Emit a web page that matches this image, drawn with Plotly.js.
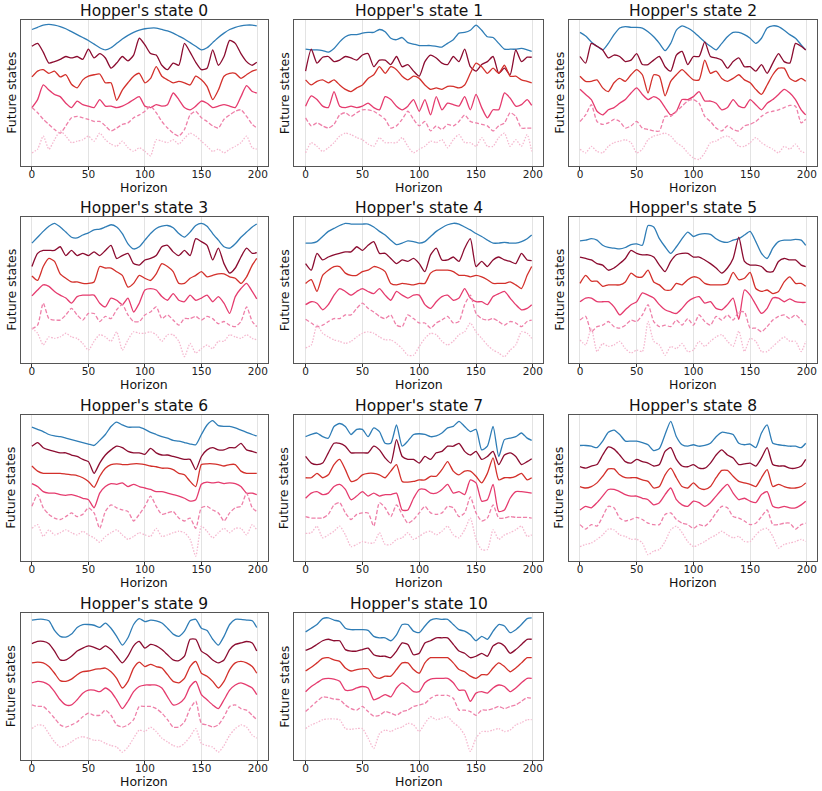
<!DOCTYPE html>
<html>
<head>
<meta charset="utf-8">
<script src="https://cdn.plot.ly/plotly-3.0.1.min.js"></script>
<style>
  body { margin: 0; background: #fff; }
  #chart { width: 822px; height: 791px; }
</style>
</head>
<body>
<div id="chart"></div>
<script>
// horizon steps sampled every 5 (last one is 199)
const horizon = [0,5,10,15,20,25,30,35,40,45,50,55,60,65,70,75,80,85,90,95,100,105,110,115,120,125,130,135,140,145,150,155,160,165,170,175,180,185,190,195,199];

// each state: 6 future-state traces, top (blue) to bottom (light pink) (0-100 scale)
const state0 = [
  [93.5,95,96.5,97,96.5,95.5,94,92,90,88,86,83.5,81,79.5,81,84,87,89.5,91.5,93,94,94.5,94.5,93.5,92.5,91,89,87,84.5,82,79.5,81,84.5,88,91,93.5,95,96,96.5,96.5,96],
  [82,84,78,70.5,71.5,73,75,74,75,73,80,74,77,74,67,70.5,75,72,76,87.5,83,77,76,69,66,70.5,69,84,78,71,66,67,79.5,69,75,86,84,77,71.5,69,71],
  [61,65,66,63.5,65,61,62.5,56,53.5,59,61.5,62.5,63,57,57,45,52,57,61.5,63.5,57,60,68,61.5,59,57,58,57,55.5,61.5,59,54.5,45.5,52,61.5,63.5,63.5,60,62.5,65,66],
  [40,45.5,55.5,52,49,47.5,43,40,44.5,42,41,40,45.5,41,41,40,41,43,45.5,47.5,41,40,42,41,42,50,45.5,40,38.5,41,44.5,43,40,41,42,41,40,47.5,55,51,50],
  [40,36.5,32,28.5,25,22.5,27.5,33,34,33,32,30.5,30.5,27.5,24,26,28.5,29.5,33,35,37.5,41,36.5,30.5,26,22.5,20.5,25,35,37.5,33,30.5,27.5,26,32,35,37.5,38.5,34,28.5,26],
  [9,11.5,20.5,11.5,18,24,20.5,16,17,18,20.5,17,22.5,18,15,13.5,17,12.5,10,12.5,10,7,18,17,16,18,15,19,22.5,20.5,17,13.5,10,11.5,9,11.5,13.5,16,20.5,12.5,11.5]
];
const state1 = [
  [80,79.5,79.5,79,78,80.5,85,88.5,90,90,91,91.5,91.5,93.5,92,87.5,86.5,88,84.5,83.5,82.5,82.5,82.5,82,81.5,84,86.5,91,91.5,93,96.5,93,88.5,88,84,80,80,80,80.5,79.5,78.5],
  [65,80,70.5,74.5,75,71.5,72.5,75,74,72.5,76,77,68,72.5,72.5,69.5,75,68,69.5,65,61.5,71.5,76,74,70.5,69.5,75,71.5,80,68,65,69.5,71.5,75,63.5,67,62.5,79.5,71.5,74.5,74.5],
  [59,55.5,58,59,57,59,55.5,52.5,51,53.5,55.5,60,62.5,68,63.5,68,66,61.5,59,61.5,60,55.5,52.5,53.5,52.5,54.5,54.5,53.5,55.5,63.5,70.5,68,63.5,67,63.5,69,61.5,61.5,59,58,57],
  [41,48,45.5,41,40,51,41,40,41,40,41,43,40,38.5,47.5,45.5,41,38.5,41,45.5,37.5,45.5,35,47.5,38.5,43,42,41,47.5,38.5,49,40,33,38.5,38.5,50,46.5,41,42,45.5,41.5],
  [33,27.5,29.5,27.5,26,28.5,35,36.5,34,36.5,38.5,38.5,37.5,35,32,26,27.5,32,37.5,32,27.5,30.5,24,27.5,25,28.5,27.5,30.5,35,30.5,29.5,28.5,27.5,24,27.5,29.5,36.5,34,26,26,26],
  [9,16,13.5,10,12.5,16,20.5,22.5,21.5,19.5,18,15,13.5,19.5,16,16,16,19.5,13.5,9,11.5,13.5,17,16,18,12.5,18,21.5,16,16,13.5,19.5,13.5,13.5,19.5,22.5,13.5,18,13.5,21.5,10]
];
const state2 = [
  [91.5,89,85,82,79.5,84,90,94.5,95.5,95,95,94.5,92,88.5,84,79,84,93,96,94.5,92,88.5,85,82,79.5,84,88.5,91.5,91.5,90,87.5,84,87.5,94.5,96,95.5,93,90,87.5,83,79.5],
  [75,70.5,84,82,79.5,74,76,75,71.5,72.5,77,69.5,69.5,72.5,75,68,65,76,78.5,69.5,75,75,85,75,74,72.5,67,71.5,74,68,68,65,69.5,63.5,70.5,77,71.5,70.5,84,82,79.5],
  [61.5,58,58,59,53.5,51,57,60,58,62.5,66,62.5,50,62.5,61.5,48,58,62.5,66,62.5,59,59,72.5,63.5,65,60,58,60,62.5,59,57,52.5,49,55.5,62.5,67,67,60,58,60,58],
  [52.5,49,45.5,37.5,35,38.5,40,43,45.5,50,53.5,49,45.5,47.5,45.5,40,35,37.5,45.5,45.5,47.5,51,44.5,44.5,43,38.5,40,45.5,41,40,45.5,42,38.5,43,45.5,49,52.5,50,45.5,38.5,35],
  [30.5,35,42,30.5,28.5,29.5,32,30.5,26,27.5,30.5,26,25,24,24,34,34,37.5,41,44.5,45.5,43,34,30.5,26,24,27.5,25,24,27.5,28.5,30.5,34,36.5,37.5,38.5,40,41.5,41,29.5,32],
  [11.5,9,13.5,10,9,13.5,16,17,18,16,9,11.5,18,20.5,21.5,22.5,20.5,16,13.5,9,5.5,4.5,9,16,17,19.5,20.5,18,13.5,13.5,16,19.5,16,13.5,11.5,9,13.5,11.5,15,10,9]
];
const state3 = [
  [82,86,90,93.5,95.5,93,89.5,86,85.5,87.5,89,91,91.5,93,94.5,93,88.5,81.5,78,79.5,84,88.5,92,93.5,94,92.5,88.5,86,89.5,94,95.5,93.5,88.5,84,79.5,78.5,81.5,86,89.5,93,95],
  [66,75,77,77,77,79.5,73.5,77,73.5,75,73.5,76,73.5,77,80.5,71.5,73.5,75,68,67,70.5,71.5,73.5,79.5,80.5,76,73.5,77,73.5,85,83,80.5,70.5,78.5,68,61.5,65,72.5,78.5,75,75.5],
  [59.5,56.5,66,71.5,69.5,61,58,55.5,55.5,54.5,54.5,55.5,66,65,65,62.5,60,52,54.5,60,58,56.5,61,68,66,62.5,54.5,54.5,58,60,62.5,59,60,61,61,59,58,54.5,59,67,71.5],
  [46,50,53.5,52.5,49,46.5,44.5,41,45.5,46.5,46.5,46.5,41,38.5,44.5,43,40,44.5,35,41,50,51,50,45.5,43,47.5,43,42,46.5,43,44.5,46.5,42,45.5,41,34,45.5,51,54.5,49,44],
  [23.5,26,41,30.5,29.5,29.5,33,37.5,33,29.5,34,34,28.5,32,30.5,36.5,40,33,28.5,28.5,33,35,38.5,30.5,33,29.5,26,30.5,30.5,32,29.5,32,30.5,27,28.5,26,25,28.5,38.5,28.5,25],
  [24,20.5,12.5,18,17,18,20.5,18,17,13.5,9,15,19.5,18,15,21.5,9,16,21.5,20.5,20.5,21.5,19.5,15,19.5,19.5,15,4.5,13.5,7,10,12.5,10,15,15,19.5,18,17,19.5,17,16]
];
const state4 = [
  [82,82,83,86.5,90,92,94,95.5,95,95,95,95,93,90,87.5,84,81,82,83.5,83,82,83,86.5,90,92.5,94.5,95.5,95,93,91,88.5,86.5,84,82,82,82.5,82,82,83,85,87.5],
  [68,63.5,75,70.5,72.5,74,75,76,76,79.5,77,80.5,83,75,75,71.5,68,70.5,69.5,71.5,68,62.5,74,78.5,70.5,70.5,72.5,69.5,78.5,85,66,69.5,66,70.5,72.5,70.5,69.5,68,75,70.5,70],
  [54.5,57,49,60,63.5,66,66,61.5,60,60,62.5,63.5,66,65,62.5,54.5,53.5,54.5,54,53.5,54.5,54.5,61.5,63.5,63.5,63.5,62.5,60,60,59,60,59,57,54.5,54.5,54.5,55.5,53.5,51,60,66],
  [40,42,41,36.5,40,46.5,51,49,46.5,49,51,49,47.5,51,46.5,43,49,46.5,44.5,46.5,46.5,40,37.5,42,45.5,46.5,43,44.5,51,44.5,42,42,40,45.5,47.5,49,44.5,40,36.5,37.5,40],
  [30,27.5,25,26,28.5,30.5,30.5,33,33,37.5,41,37.5,35,32,30.5,33,26,25,33,30.5,27.5,27.5,24,27.5,29.5,32,27.5,28.5,40,46.5,34,30.5,29.5,30.5,28.5,26,28.5,27.5,25,28.5,29.5],
  [10.5,12.5,26,20.5,18,16,15,13.5,15,18,20.5,21.5,20.5,18,16,16,13.5,10,5.5,5.5,11.5,17,20.5,19.5,15,12.5,15,19.5,21.5,27.5,21.5,17,12.5,9,7,4.5,9,12.5,21.5,20.5,17]
];
const state5 = [
  [83.5,84,85,84,80.5,79,78.5,78,79,81,81.5,80.5,94,93,85,79.5,75,79.5,85,89.5,86.5,88,88.5,88,85,83,82.5,84,85,87.5,90,83,75,71.5,78.5,83,84,84,84.5,84,80.5],
  [72.5,71.5,70.5,68,67,63.5,65,68,71.5,77,75,74,74,72.5,67,62.5,69.5,74,75,75,72.5,72.5,70.5,68,65,61.5,65,71.5,86,69.5,67,67,66,62.5,62.5,69.5,71.5,70.5,70.5,67,66],
  [54.5,60,56,56,52.5,53.5,53.5,53.5,55.5,61.5,59,59,63.5,55.5,53.5,50,50,54.5,53.5,57,59,58,54.5,53.5,53.5,53.5,54.5,62,57,58,62,51,49,50,47.5,49,55.5,59,54.5,54.5,52.5],
  [42,44.5,44.5,42,42,42,38.5,33,36.5,40,42,48,46.5,44.5,40,36.5,35,34,37.5,42,44.5,45.5,41,42,37.5,36.5,40,44.5,30,50,46.5,40,34,37.5,44.5,44.5,42,44,42,41.5,41.5],
  [29.5,32,21.5,25,26,28.5,25,24,26,29.5,28.5,33,40,28.5,25,26,25,29.5,26,30.5,26,33,28.5,26,32,29.5,33,29.5,35,35,24,24,21.5,25,29.5,32,33,30.5,33,29.5,26],
  [16,12.5,24,8,13.5,11.5,12.5,15,10,7,9,8,28.5,15,12.5,5.5,11.5,10,13.5,8,9,15,11.5,15,18,19.5,15,11.5,22,8,17,15,8,8,11.5,15,18,15,15,8,15]
];
const state6 = [
  [91.5,90,88.5,86.5,85.5,85,84,83,82,81,80,79,82.5,86.5,92,95,93,91.5,91.5,91.5,90,88,86.5,85,84,82.5,82,81,80,79.5,86.5,93,96,92.5,92,92,91,89.5,88,86.5,85.5],
  [78.5,81,77.5,76,75,74,74,72.5,71.5,69.5,68,60,67,72.5,76,78.5,77.5,75,74,74,73,77,74,72.5,72.5,71.5,70.5,69.5,69.5,62.5,71.5,76,77.5,76,76,77.5,77.5,80.5,76,75,74],
  [65,61.5,60,60,60,60,59.5,59,58.5,57,54.5,50.5,58,63.5,66,66.5,66,66,66.5,66.5,66,65,64.5,63.5,63.5,62.5,60,59,54.5,51,66,66.5,66.5,66,65,66,66,61.5,60,60,60],
  [53,51,47.5,46.5,46.5,45.5,45,45.5,44.5,43,42,36.5,46.5,51,53,52.5,53.5,51,52.5,51,50,49,47.5,47.5,46.5,45.5,44.5,43,41,42,52.5,54,53.5,54,53,53.5,53,51,46.5,46.5,45.5],
  [37.5,45.5,36.5,32,29.5,28.5,30.5,33,30.5,32,36.5,33,22.5,34,38.5,36.5,35,34,27.5,32,37.5,44.5,37.5,32,33,34,29.5,27.5,29.5,22.5,36.5,37.5,35,33,27.5,33,36.5,37.5,46.5,36.5,34],
  [22.5,25,17,21.5,18,19.5,21.5,19.5,18,20.5,18,16,13,17,19.5,21.5,18,15,17,19.5,18,17,22.5,17,18,19.5,20.5,19.5,15,3.5,24,20.5,16,19.5,22.5,19.5,22.5,22.5,18,25,21.5]
];
const state7 = [
  [85,86.5,87.5,85,84,92,94,92,86.5,90,90,85,91,88.5,80.5,80.5,93,78.5,82,86.5,87,86.5,85,85.5,87.5,91,92,95.5,92,88.5,90,76,78.5,92,71.5,83,84,85,87.5,84,82.5],
  [71.5,67,66,67,74,80.5,80.5,78.5,74,74,74,74,78.5,76,70.5,67,83,71.5,69.5,69.5,67,71.5,69.5,74,75,78.5,78.5,80.5,75,72.5,75,69.5,71.5,75,66,72.5,74,71.5,66,68,70],
  [57,57,60,57,59,66,69.5,62.5,54.5,55.5,59,60,60,59,57,61.5,66,54.5,54,54.5,55.5,55.5,58,58,62.5,68,61.5,59,61.5,61.5,58,53.5,60,70.5,55.5,57,57,58,60,55.5,57],
  [43,46.5,47.5,45.5,46.5,51,52.5,49,42,44.5,47.5,44.5,46.5,44.5,45.5,45.5,46.5,35,35,43,49,49,46.5,46.5,49,52.5,46.5,47.5,45.5,55.5,53.5,41,42,52.5,34,35,43,47.5,47.5,47,46.5],
  [30.5,29.5,29.5,29.5,32,38.5,40,33,28.5,32,33,33,24,40,36.5,30.5,38.5,32,26,28.5,33,37.5,33,32,33,37.5,36.5,30.5,33,44,33,27.5,29.5,38.5,29.5,29.5,30.5,30,30,30,29.5],
  [19,19.5,24,16,18,20.5,24,18,10,11.5,13.5,12.5,12.5,19.5,11.5,11.5,15,16,19.5,15,17,19.5,20.5,18,20.5,24,18,16,21.5,29.5,15,8,8,21.5,15,18,19.5,21.5,24,17,18]
];
const state8 = [
  [79,79,78.5,77.5,82,88,89.5,86.5,82,82,82,81,79.5,75.5,77,86.5,95.5,85,79.5,78.5,79.5,78.5,79,80.5,85,88,87.5,86.5,80.5,79.5,80,77.5,87.5,93,80.5,79.5,79,78.5,78.5,77.5,80.5],
  [64.5,63.5,65,66,72.5,78,76.5,72.5,68,67,69.5,68,67,65,66,75,77.5,69.5,65,64.5,66,63.5,63.5,67,72.5,76,72.5,70.5,66,66.5,67,65,70.5,77.5,66,65,65,63.5,63.5,65,69.5],
  [51,50,51,53.5,58,63,63,59,57,57,57,55.5,54.5,50,51,59,63.5,57,51,50,53.5,50,49,51,57,62,62,58,54.5,53.5,52.5,51,57,62.5,51,52.5,51,50,50,51,53.5],
  [35,37.5,36.5,40,44.5,49,49,47.5,45.5,44.5,44.5,43,42,38.5,40,45.5,50,42,38.5,37.5,41,40,37.5,40,44.5,49,52.5,46.5,42,43,41,40,45.5,47.5,37.5,36.5,37.5,36.5,36.5,38.5,41],
  [25,22,25,24,30.5,37.5,36.5,29.5,27.5,28.5,30,28.5,26,25,25,32,33,28.5,26,25,22.5,25,24,27.5,33,37.5,36.5,30.5,29.5,27.5,25,26,30.5,35,25,25,26,26,22,25,26],
  [10,11.5,12.5,15,18,22,21.5,18,17,15,15,12.5,4.5,7,8,13.5,21.5,24,19.5,13.5,10,11.5,13.5,16,18,20.5,18,16,17,13.5,13.5,18,21.5,22.5,17,9,11.5,12.5,13.5,15,13.5]
];
const state9 = [
  [95,95.5,95.5,94.5,88,84,83.5,85.5,90,92,92,91.5,90,93,89.5,84,78,83,92,96,94,95,94.5,93,89.5,85.5,84,87.5,94.5,95.5,89.5,88,82,78,84,92,95.5,95.5,95,94.5,90],
  [79,80.5,80.5,79,74,68,68,70.5,74,76,77.5,76.5,75,77.5,75,70.5,66,70.5,77.5,80.5,76,78.5,77.5,75,71.5,68,67.5,70.5,82,82,74,71.5,68,66,68,75,78.5,79.5,80.5,79.5,74],
  [66,66.5,66,63.5,59,54,53.5,55,58,60,60.5,61.5,62,62.5,60,55.5,49,53.5,62.5,66.5,63.5,65,63.5,62.5,58,53.5,52.5,55.5,63.5,67,59,57,53.5,49,53.5,61.5,66,67,66,63.5,59],
  [52.5,53.5,53,51,46.5,41,37.5,37.5,41,45.5,47.5,47.5,46.5,49,46.5,41,35,40,46.5,50,51,51,51,49,43,37.5,38.5,42,50,53.5,44.5,41,37.5,35,41,47.5,51,52.5,51,49,44.5],
  [37.5,36.5,36.5,33,28.5,24,22.5,24,26,29.5,32,30.5,30.5,34,30.5,24,22.5,24,27.5,36.5,36.5,36.5,35,32,27.5,22.5,22.5,26,35,40,25,24,22.5,24,29.5,36.5,37.5,35,34,30.5,27.5],
  [21.5,24,23.5,18,12.5,9,10,12.5,15,16,15,13.5,13.5,11.5,10,9,5.5,9,15,20.5,19.5,22.5,19.5,15,12.5,10,9,11.5,16,21.5,11.5,10,9,5.5,10,17,21.5,24,22.5,17,15]
];
const state10 = [
  [87,89.5,92,96,96.5,95,94,89.5,88.5,88.5,88.5,88,84,83,83,81,85,92,92,87.5,86.5,91,95,96,95.5,95.5,92,88.5,87.5,85,81,84,82,87.5,92,91,86.5,88.5,92,96,96.5],
  [74.5,76,78.5,81,82,81,81,75,74,74,75,76,71.5,70.5,70.5,69.5,74,79.5,78.5,71.5,72.5,79.5,81,83,83,83,78.5,74,72.5,69.5,70.5,72.5,70.5,77.5,79.5,77.5,72.5,75,78.5,82,82],
  [60.5,63,66,69,69.5,68,67,62.5,60.5,61.5,62,62,57,55.5,57,57,61.5,66,66,61.5,59,66,69.5,69.5,69.5,69.5,66,61.5,60,57,55.5,58,58,62.5,66,63.5,60,62.5,66,69.5,69.5],
  [46.5,50,52.5,55,55.5,55,53.5,47.5,47.5,49,50,49,41,42.5,44.5,43,49,52.5,50,46.5,46.5,52.5,55,55.5,55.5,55.5,52.5,47.5,47.5,40,45.5,46.5,45.5,49,51,50,46.5,49,52.5,55.5,55.5],
  [33,36.5,40,43,42.5,41.5,41,37.5,35,34,36.5,33,30,30.5,33,32,30.5,33,34,36.5,37.5,38.5,42,44,44,44,42,34,34,33,30.5,34,34,35,36.5,35,36.5,37.5,40,42.5,42],
  [21.5,24,25.5,27.5,28,28,27.5,21.5,21,21.5,21.5,15,8,18,20.5,19.5,21.5,22.5,25,24,19.5,25,29.5,27.5,28.5,29.5,25.5,22.5,17,6,15,19.5,19.5,20.5,21.5,19.5,20.5,24,25.5,27.5,27.5]
];

const states = [state0, state1, state2, state3, state4, state5, state6, state7, state8, state9, state10];
const xTicks = [0, 50, 100, 150, 200];

const lineColors = ['#2f7db6', '#8b0c30', '#d3302b', '#e53b6e', '#ee80a9', '#f5b8cf'];
const lineDash = ['solid', 'solid', 'solid', 'solid', '4px,2px', '1.5px,1.5px'];

// plot area edges in pixels (figure is 822 x 791)
const W = 822, H = 791;
const colLeft = [20.7, 294.3, 568.7];
const colRight = [268, 543, 817];
const rowTop = [20, 216.7, 414.7, 612.7];
const rowBottom = [166, 363.3, 561.3, 760.3];

const font = 'DejaVu Sans, Liberation Sans, sans-serif';

let traces = [];
let layout = {
  width: W,
  height: H,
  margin: {l: 0, r: 0, t: 0, b: 0},
  paper_bgcolor: '#fff',
  plot_bgcolor: '#fff',
  showlegend: false,
  font: {family: font, color: '#111'},
  annotations: []
};

states.forEach((st, i) => {
  const row = Math.floor(i / 3), col = i % 3;
  const n = i === 0 ? '' : String(i + 1);
  const xa = 'x' + n, ya = 'y' + n;

  st.forEach((vals, k) => {
    traces.push({
      x: horizon,
      y: vals,
      xaxis: xa,
      yaxis: ya,
      mode: 'lines',
      line: {color: lineColors[k], width: 1.3, dash: lineDash[k], shape: 'spline', smoothing: 0.6},
      hoverinfo: 'skip'
    });
  });

  layout['xaxis' + n] = {
    domain: [colLeft[col] / W, colRight[col] / W],
    anchor: ya,
    range: [-9.95, 208.95],
    tickvals: xTicks,
    ticktext: xTicks.map(String),
    ticks: 'outside',
    ticklen: 3,
    tickwidth: 1,
    tickcolor: '#333',
    ticklabelstandoff: -5,
    tickfont: {size: 10.5, family: font, color: '#222'},
    showgrid: true,
    gridcolor: '#e3e3e3',
    gridwidth: 1,
    zeroline: false,
    showline: true,
    linecolor: '#555',
    linewidth: 1.1,
    mirror: true
  };
  layout['yaxis' + n] = {
    domain: [1 - rowBottom[row] / H, 1 - rowTop[row] / H],
    anchor: xa,
    range: [0, 100],
    showticklabels: false,
    ticks: '',
    showgrid: false,
    zeroline: false,
    showline: true,
    linecolor: '#555',
    linewidth: 1.1,
    mirror: true
  };

  layout.annotations.push(
    {
      text: "Hopper's state " + i,
      xref: xa + ' domain', yref: ya + ' domain',
      x: 0.5, y: 1, xanchor: 'center', yanchor: 'middle', yshift: 9,
      showarrow: false,
      font: {size: 15.5, family: font, color: '#111'}
    },
    {
      text: 'Horizon',
      xref: xa + ' domain', yref: ya + ' domain',
      x: 0.5, y: 0, xanchor: 'center', yanchor: 'middle', yshift: -21.5,
      showarrow: false,
      font: {size: 12.5, family: font, color: '#111'}
    },
    {
      text: 'Future states',
      xref: xa + ' domain', yref: ya + ' domain',
      x: 0, y: 0.5, xanchor: 'center', yanchor: 'middle', xshift: -10,
      textangle: -90,
      showarrow: false,
      font: {size: 12.5, family: font, color: '#111'}
    }
  );
});

Plotly.newPlot('chart', traces, layout, {staticPlot: true, displayModeBar: false});
</script>
</body>
</html>
